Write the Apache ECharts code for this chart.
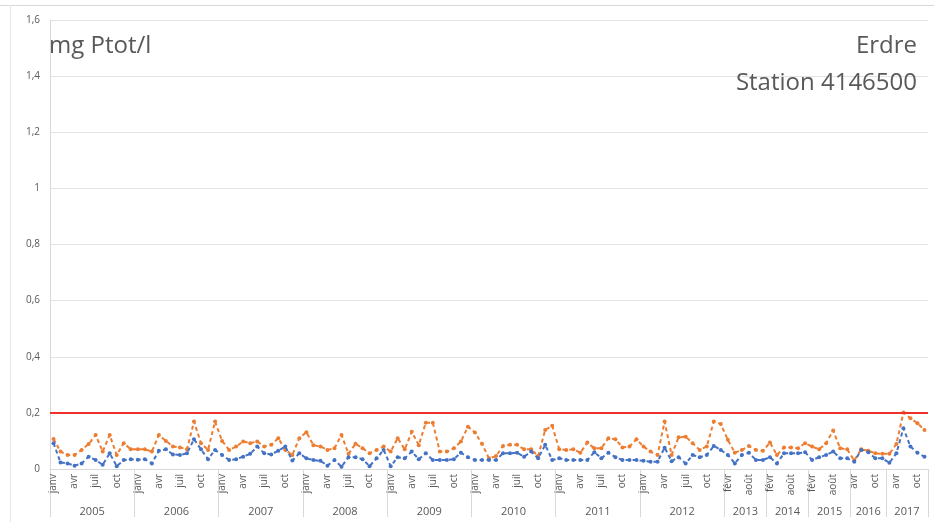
<!DOCTYPE html>
<html>
<head>
<meta charset="utf-8">
<script src="https://cdn.jsdelivr.net/npm/echarts@6/dist/echarts.min.js"></script>
<style>html,body{margin:0;padding:0;background:#fff}#c{width:934px;height:522px}</style>
</head>
<body>
<div id="c"></div>
<script>
// ---- DATA ----
var fullYear = ['janv','févr','mars','avr','mai','juin','juil','août','sept','oct','nov','déc'];
var biMonth = ['févr','avr','juin','août','oct','déc'];
var years = ['2005','2006','2007','2008','2009','2010','2011','2012','2013','2014','2015','2016','2017'];
var monthsPerYear = [fullYear,fullYear,fullYear,fullYear,fullYear,fullYear,fullYear,fullYear,
  biMonth,biMonth,biMonth,['avr','juin','août','oct','déc'],biMonth];

var seriesOrange = [
  0.107,0.062,0.05,0.05,0.068,0.089,0.121,0.062,0.121,0.05,0.092,0.07,
  0.07,0.07,0.062,0.121,0.10,0.08,0.077,0.07,0.169,0.092,0.068,0.169,
  0.10,0.068,0.08,0.098,0.092,0.098,0.08,0.086,0.11,0.068,0.05,0.11,
  0.131,0.085,0.08,0.068,0.074,0.121,0.054,0.09,0.074,0.056,0.068,0.08,
  0.062,0.11,0.07,0.133,0.085,0.165,0.165,0.062,0.062,0.074,0.098,0.151,
  0.13,0.09,0.038,0.046,0.082,0.086,0.086,0.07,0.07,0.046,0.139,0.154,
  0.07,0.068,0.07,0.058,0.094,0.074,0.074,0.11,0.106,0.077,0.08,0.106,
  0.08,0.062,0.05,0.169,0.05,0.113,0.115,0.092,0.068,0.08,0.169,0.16,
  0.104,0.058,0.068,0.082,0.068,0.065,
  0.094,0.05,0.077,0.077,0.074,0.092,
  0.08,0.07,0.092,0.137,0.074,0.07,
  0.03,0.07,0.065,0.056,0.054,
  0.054,0.089,0.201,0.181,0.163,0.139
];
var seriesBlue = [
  0.092,0.023,0.02,0.012,0.02,0.044,0.032,0.015,0.056,0.01,0.032,0.035,
  0.033,0.035,0.02,0.065,0.07,0.052,0.05,0.056,0.106,0.07,0.035,0.068,
  0.05,0.032,0.035,0.044,0.054,0.08,0.056,0.052,0.065,0.08,0.03,0.056,
  0.038,0.032,0.029,0.012,0.032,0.008,0.042,0.042,0.035,0.01,0.038,0.068,
  0.01,0.042,0.038,0.062,0.035,0.056,0.032,0.032,0.032,0.035,0.058,0.042,
  0.032,0.032,0.032,0.032,0.056,0.056,0.058,0.044,0.062,0.038,0.086,0.032,
  0.038,0.032,0.032,0.032,0.032,0.06,0.038,0.058,0.042,0.032,0.032,0.032,
  0.029,0.026,0.026,0.076,0.028,0.042,0.02,0.05,0.042,0.05,0.082,0.068,
  0.05,0.02,0.05,0.058,0.032,0.032,
  0.042,0.02,0.056,0.056,0.056,0.06,
  0.032,0.042,0.05,0.062,0.038,0.038,
  0.026,0.068,0.06,0.038,0.038,
  0.022,0.056,0.145,0.08,0.058,0.044
];
var threshold = 0.2;

// ---- build ----
var months = [];
var bounds = [0];
var centers = [];
monthsPerYear.forEach(function(arr){
  var start = months.length;
  arr.forEach(function(m){ months.push(m); });
  bounds.push(months.length);
  centers.push((start + months.length) / 2);
});
var N = months.length;

var font = 'Open Sans, Liberation Sans, sans-serif';
var gray = '#595959';
var chart = echarts.init(document.getElementById('c'), null, {renderer:'canvas'});
chart.setOption({
  animation: false,
  backgroundColor: '#fff',
  title: [
    {text:'mg Ptot/l', left: 49, top: 34, padding: 0, textStyle:{fontSize:24, fontWeight:'normal', color:gray, fontFamily:font}},
    {text:'Erdre', right: 17, top: 34, padding: 0, textStyle:{fontSize:24, fontWeight:'normal', color:gray, fontFamily:font}},
    {text:'Station 4146500', right: 17, top: 71, padding: 0, textStyle:{fontSize:24, fontWeight:'normal', color:gray, fontFamily:font}}
  ],
  graphic: [
    {type:'line', shape:{x1:0,y1:5.5,x2:934,y2:5.5}, style:{stroke:'#d9d9d9', lineWidth:1}, silent:true},
    {type:'line', shape:{x1:10.5,y1:5,x2:10.5,y2:522}, style:{stroke:'#e6e6e6', lineWidth:1}, silent:true}
  ],
  grid: {left: 50, right: 6, top: 20, bottom: 53, containLabel: false},
  xAxis: [
    {
      type: 'category', data: months, boundaryGap: true,
      axisLine: {show: true, lineStyle: {color: '#d9d9d9'}},
      axisTick: {show: false},
      axisLabel: {rotate: 90, interval: 2, fontSize: 10, color: gray, fontFamily: font, margin: 5}
    },
    {
      type: 'value', min: 0, max: N, position: 'bottom',
      axisLine: {show: false},
      splitLine: {show: false},
      axisTick: {show: true, customValues: bounds, length: 48, lineStyle: {color: '#d9d9d9'}},
      axisLabel: {
        customValues: centers, margin: 37, fontSize: 11, color: gray, fontFamily: font,
        formatter: function(v){ var k = centers.indexOf(v); return k >= 0 ? years[k] : ''; }
      }
    }
  ],
  yAxis: {
    type: 'value', min: 0, max: 1.6, interval: 0.2,
    axisLine: {show: true, lineStyle: {color: '#d9d9d9'}},
    axisTick: {show: false},
    splitLine: {lineStyle: {color: '#e3e3e3'}},
    axisLabel: {fontSize: 10, color: gray, fontFamily: font, margin: 10,
      formatter: function(v){ return String(Math.round(v*10)/10).replace('.', ','); }}
  },
  series: [
    {
      type: 'line', data: seriesOrange, xAxisIndex: 0,
      symbol: 'circle', symbolSize: 4, showSymbol: true,
      itemStyle: {color: '#ED7D31'},
      lineStyle: {color: '#ED7D31', width: 2, type: [4, 3]},
      markLine: {
        silent: true, symbol: 'none', label: {show: false},
        lineStyle: {color: '#F0302A', width: 2, type: 'solid'},
        data: [{yAxis: threshold}]
      },
      z: 3
    },
    {
      type: 'line', data: seriesBlue, xAxisIndex: 0,
      symbol: 'circle', symbolSize: 4, showSymbol: true,
      itemStyle: {color: '#4472C4'},
      lineStyle: {color: '#4472C4', width: 2, type: [4, 3]},
      z: 4
    }
  ]
});
</script>
</body>
</html>
